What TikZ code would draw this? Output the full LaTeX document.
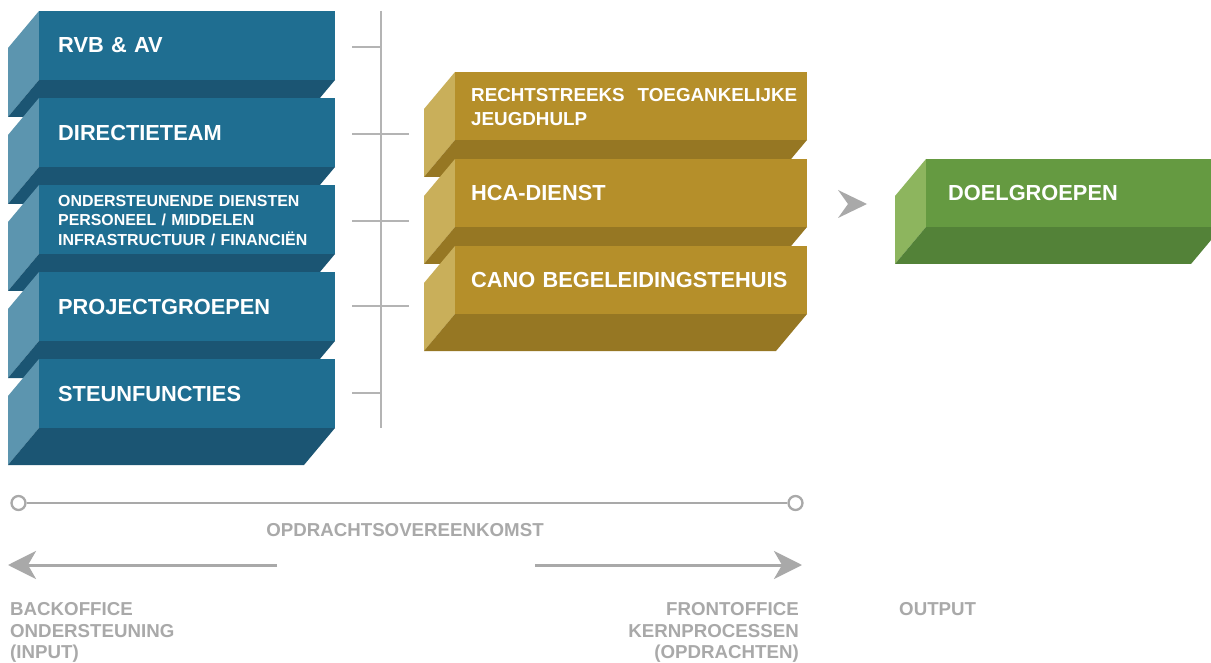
\documentclass[tikz,border=0pt]{standalone}
\usepackage{fontspec}
\setmainfont{Liberation Sans}
\usetikzlibrary{arrows.meta}
\definecolor{bluefront}{HTML}{1F6E91}
\definecolor{bluebottom}{HTML}{1B5573}
\definecolor{blueside}{HTML}{5C95AF}
\definecolor{goldfront}{HTML}{B58F2A}
\definecolor{goldbottom}{HTML}{967723}
\definecolor{goldside}{HTML}{C9AF5A}
\definecolor{greenfront}{HTML}{659A41}
\definecolor{greenbottom}{HTML}{538238}
\definecolor{greenside}{HTML}{8DB55E}
\definecolor{lgrey}{HTML}{A9A9A9}
\definecolor{tgrey}{HTML}{B4B4B4}
\newcommand{\fbig}{\bfseries\fontsize{21.8}{25}\selectfont}
\newcommand{\fmid}{\bfseries\fontsize{18.8}{24}\selectfont}
\newcommand{\fsmall}{\bfseries\fontsize{15.9}{19.8}\selectfont}
% #1 name, #2 x, #3 y, #4 w, #5 h, #6 colour, #7 text options, #8 text width, #9 text
\newcommand{\slab}[9]{%
  \fill[#6side] (#2,#3) -- ++(-31,37) -- ++(0,#5) -- ++(31,-37) -- cycle;
  \fill[#6bottom] (#2,#3) ++(0,#5) -- ++(#4,0) -- ++(-31,37) -- ++(-#4,0) -- cycle;
  \node[face, fill=#6front, minimum width=#4pt, minimum height=#5pt] (#1) at (#2,#3) {};
  \node[slabtext, text width=#8pt, #7] (#1t) at (#1.west) {#9};
}
\tikzset{
  face/.style={rectangle, anchor=north west, inner sep=0pt, outer sep=0pt, draw=none},
  slabtext/.style={anchor=west, inner sep=0pt, align=left, text=white, font=\fbig},
  tick/.style={draw=tgrey, line width=2.2pt},
  ring/.style={circle, draw=lgrey, line width=2.3pt, fill=white, minimum size=14pt, inner sep=0pt},
  tl/.style={draw=lgrey, line width=2.6pt},
  bigarrow/.style={draw=lgrey, line width=3pt, -{Stealth[length=28pt,width=28pt,inset=8pt]}},
  graytext/.style={inner sep=0pt, text=lgrey, font=\bfseries\fontsize{18.7}{21.8}\selectfont}
}
\begin{document}
\begin{tikzpicture}[x=1pt,y=-1pt]
\clip (0,0) rectangle (1211,663);
\fill[white] (0,0) rectangle (1211,663);
% blue back office blocks
\slab{b1}{39}{11}{296}{69}{blue}{xshift=19pt}{270}{RVB \& AV}
\slab{b2}{39}{98}{296}{69}{blue}{xshift=19pt}{270}{DIRECTIETEAM}
\slab{b3}{39}{185}{296}{69}{blue}{xshift=19pt, yshift=-1pt, font=\fsmall}{270}{ONDERSTEUNENDE DIENSTEN\\PERSONEEL / MIDDELEN\\INFRASTRUCTUUR / FINANCIËN}
\slab{b4}{39}{272}{296}{69}{blue}{xshift=19pt}{270}{PROJECTGROEPEN}
\slab{b5}{39}{359}{296}{69}{blue}{xshift=19pt}{270}{STEUNFUNCTIES}
% gold front office blocks
\slab{g1}{455}{72}{352}{68}{gold}{xshift=16pt, yshift=-1pt, font=\fmid}{326}{RECHTSTREEKS\hfill TOEGANKELIJKE\\JEUGDHULP}
\slab{g2}{455}{159}{352}{68}{gold}{xshift=16pt}{326}{HCA-DIENST}
\slab{g3}{455}{246}{352}{68}{gold}{xshift=16pt}{326}{CANO BEGELEIDINGSTEHUIS}
% green output block
\slab{d1}{926}{159}{296}{68}{green}{xshift=22pt}{260}{DOELGROEPEN}
% vertical bar with ticks
\coordinate (bt) at (381,11);
\coordinate (bb) at (381,428);
\draw[tick] (bt) -- (bb);
\foreach \yy/\rr in {47/381,134/409,221/409,306/409,393/381}
  \draw[tick] (352,\yy) -- (\rr,\yy);
% chevron
\fill[lgrey] (838,190) -- (867,204) -- (838,218) -- (848,204) -- cycle;
% timeline
\node[ring] (r1) at (18.5,503) {};
\node[ring] (r2) at (795.5,503) {};
\draw[tl] (r1) -- (r2);
\node[graytext] (ok) at (405,530.5) {OPDRACHTSOVEREENKOMST};
% arrows
\coordinate (la0) at (277,565);
\coordinate (la1) at (8,565);
\coordinate (ra0) at (535,565);
\coordinate (ra1) at (802,565);
\draw[bigarrow] (la0) -- (la1);
\draw[bigarrow] (ra0) -- (ra1);
% labels
\node[graytext, anchor=north west, align=left] (bo) at (10,602) {BACKOFFICE\\ONDERSTEUNING\\(INPUT)};
\node[graytext, anchor=north east, align=right] (fo) at (799,602) {FRONTOFFICE\\KERNPROCESSEN\\(OPDRACHTEN)};
\node[graytext, anchor=north west] (out) at (899,602) {OUTPUT};
\end{tikzpicture}
\end{document}
